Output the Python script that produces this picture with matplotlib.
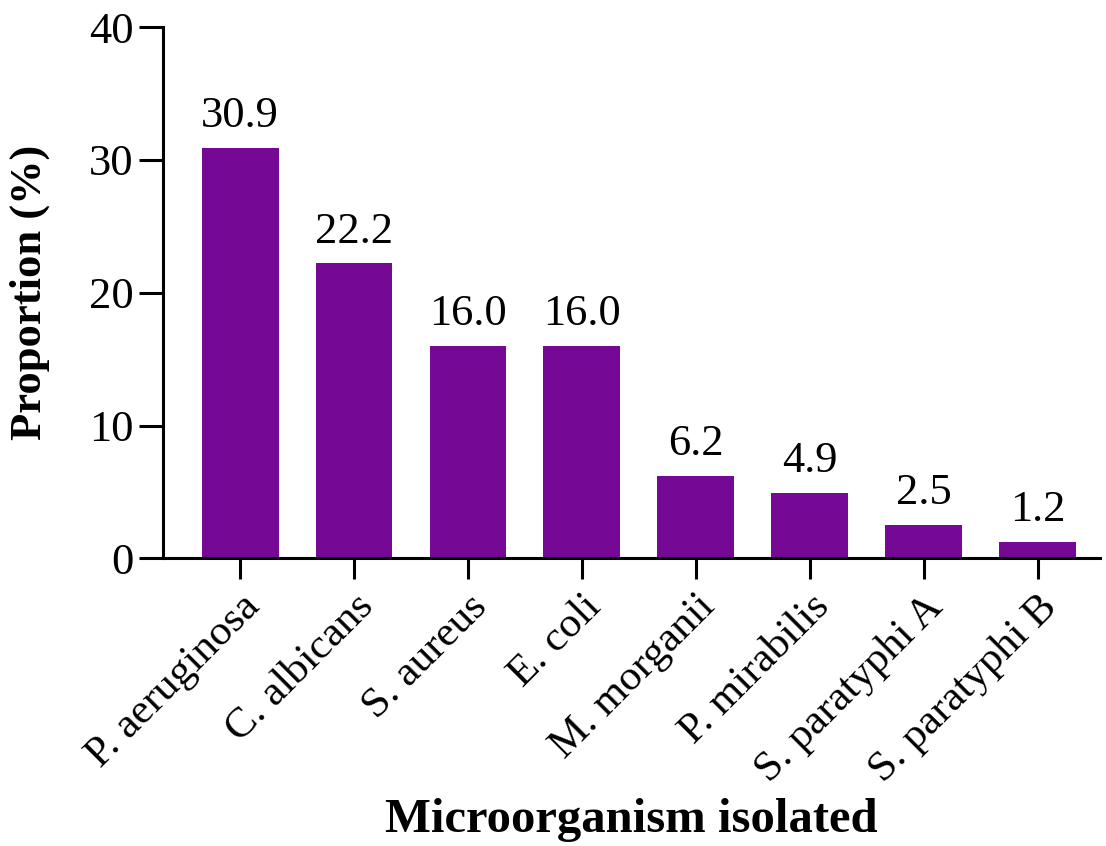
import matplotlib.pyplot as plt

organisms = ['P. aeruginosa', 'C. albicans', 'S. aureus', 'E. coli',
             'M. morganii', 'P. mirabilis', 'S. paratyphi A', 'S. paratyphi B']
proportion = [30.9, 22.2, 16.0, 16.0, 6.2, 4.9, 2.5, 1.2]

plt.rcParams['font.family'] = ['Liberation Serif', 'DejaVu Serif']

fig = plt.figure(figsize=(11.06, 8.46), dpi=100)
ax = fig.add_axes([0.147, 0.340, 0.848, 0.628])

x = range(len(organisms))
bars = ax.bar(x, proportion, width=0.675, color='#760896')
for b, v in zip(bars, proportion):
    ax.text(b.get_x() + b.get_width() / 2, v + 0.9, '%.1f' % v,
            ha='center', va='bottom', fontsize=32)

ax.set_xlim(-0.68, 7.55)
ax.set_ylim(0, 40)
ax.set_yticks([0, 10, 20, 30, 40])
ax.set_xticks(list(x))
ax.set_xticklabels(organisms, rotation=45, ha='right', rotation_mode='anchor')

for s in ['top', 'right']:
    ax.spines[s].set_visible(False)
for s in ['left', 'bottom']:
    ax.spines[s].set_linewidth(2.2)
ax.tick_params(axis='y', length=17, width=2.2, labelsize=32, pad=4)
ax.tick_params(axis='x', length=15, width=2.2, labelsize=31, pad=6)

ax.set_ylabel('Proportion (%)', fontsize=32, fontweight='bold', labelpad=28)
ax.set_xlabel('Microorganism isolated', fontsize=35, fontweight='bold', labelpad=6)

plt.savefig('out.png', dpi=100)
